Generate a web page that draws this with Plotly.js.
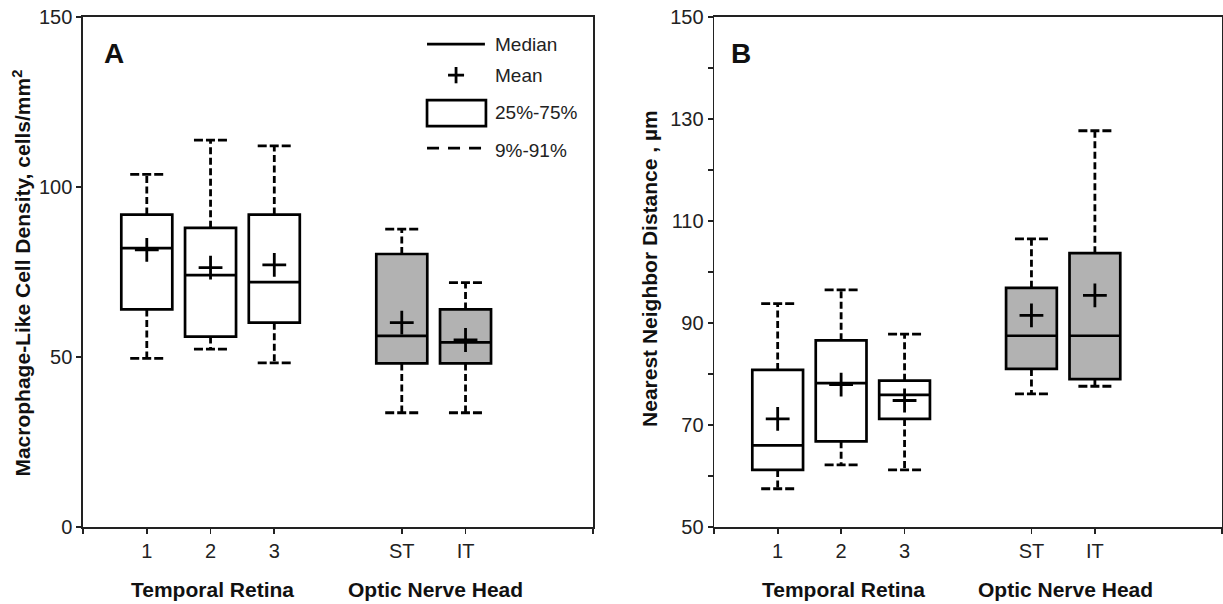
<!DOCTYPE html>
<html>
<head>
<meta charset="utf-8">
<script src="https://cdn.plot.ly/plotly-3.0.1.min.js"></script>
<style>html,body{margin:0;padding:0;background:#fff;}#chart{width:1223px;height:604px;}</style>
</head>
<body>
<div id="chart"></div>
<script>
// ---- Data ----
const categories = ['1', '2', '3', 'ST', 'IT'];
const xPositions = [1, 2, 3, 5, 6];
const groupLabels = ['Temporal Retina', 'Optic Nerve Head'];

// Panel A: Macrophage-like cell density (cells/mm^2)
const densityP9     = [49.6, 52.3, 48.3, 33.6, 33.6];
const densityQ1     = [64.0, 56.0, 60.1, 48.1, 48.1];
const densityMedian = [82.0, 74.1, 72.0, 56.2, 54.3];
const densityQ3     = [91.9, 88.0, 91.9, 80.3, 64.0];
const densityP91    = [103.7, 113.8, 112.1, 87.6, 71.9];
const densityMean   = [81.5, 76.3, 77.1, 60.1, 55.0];

// Panel B: Nearest neighbor distance (µm)
const nndP9     = [57.5, 62.2, 61.2, 76.1, 77.6];
const nndQ1     = [61.2, 66.8, 71.2, 81.0, 79.0];
const nndMedian = [66.0, 78.2, 75.9, 87.5, 87.5];
const nndQ3     = [80.8, 86.6, 78.7, 96.9, 103.7];
const nndP91    = [93.8, 96.5, 87.8, 106.5, 127.7];
const nndMean   = [71.2, 77.9, 74.8, 91.5, 95.4];

const yTicksA = [0, 50, 100, 150];
const yTicksB = [50, 70, 90, 110, 130, 150];

// ---- Styling ----
const FONT = 'Liberation Sans, Arial, sans-serif';
const BOXW = 0.8, CAPW = 0.26;
const fills = ['#ffffff', '#ffffff', '#ffffff', '#b2b2b2', '#b2b2b2'];

function panelTraces(p9, q1, med, q3, p91, mean, xa, ya) {
  const traces = [];
  const wx = [], wy = [], cx = [], cy = [];
  for (let i = 0; i < xPositions.length; i++) {
    const x = xPositions[i];
    wx.push(x, x, null, x, x, null);
    wy.push(q3[i], p91[i], null, q1[i], p9[i], null);
    cx.push(x - CAPW, x + CAPW, null, x - CAPW, x + CAPW, null);
    cy.push(p91[i], p91[i], null, p9[i], p9[i], null);
  }
  traces.push({type: 'scatter', mode: 'lines', x: wx, y: wy, xaxis: xa, yaxis: ya,
    line: {color: '#000', width: 2.8, dash: '7px,3.5px'}, hoverinfo: 'skip', connectgaps: false});
  traces.push({type: 'scatter', mode: 'lines', x: cx, y: cy, xaxis: xa, yaxis: ya,
    line: {color: '#000', width: 2.8, dash: '9px,3px'}, hoverinfo: 'skip', connectgaps: false});
  const groups = [[0, 1, 2], [3, 4]];
  groups.forEach(function (idx) {
    const pick = a => idx.map(i => a[i]);
    traces.push({type: 'box', xaxis: xa, yaxis: ya,
      x: pick(xPositions), q1: pick(q1), median: pick(med), q3: pick(q3),
      lowerfence: pick(q1), upperfence: pick(q3),
      width: BOXW, whiskerwidth: 0, boxpoints: false,
      fillcolor: fills[idx[0]], line: {color: '#000', width: 2.7}, hoverinfo: 'skip'});
  });
  traces.push({type: 'scatter', mode: 'markers', x: xPositions, y: mean, xaxis: xa, yaxis: ya,
    marker: {symbol: 'cross-thin', size: 17, color: '#000', line: {color: '#000', width: 2.8}},
    hoverinfo: 'skip'});
  return traces;
}

const data = [].concat(
  panelTraces(densityP9, densityQ1, densityMedian, densityQ3, densityP91, densityMean, 'x', 'y'),
  panelTraces(nndP9, nndQ1, nndMedian, nndQ3, nndP91, nndMean, 'x2', 'y2')
);

const axisCommon = {
  showgrid: false, zeroline: false, showline: true, mirror: true,
  linecolor: '#222', linewidth: 1.7, ticks: 'outside', ticklen: 5, tickwidth: 1.7, tickcolor: '#222',
  tickfont: {family: FONT, size: 20, color: '#222'}, fixedrange: true
};

const layout = {
  width: 1223, height: 604,
  margin: {l: 0, r: 0, t: 17, b: 77},
  paper_bgcolor: '#fff', plot_bgcolor: '#fff',
  showlegend: false,
  font: {family: FONT, color: '#222'},
  xaxis: Object.assign({}, axisCommon, {domain: [0.0679, 0.4849], range: [0, 8], anchor: 'y',
    tickmode: 'array', tickvals: xPositions, ticktext: categories,
    minor: {tickmode: 'array', tickvals: [0, 8], ticks: 'outside', ticklen: 5, tickwidth: 1.7, tickcolor: '#222', showgrid: false}}),
  yaxis: Object.assign({}, axisCommon, {domain: [0, 1], range: [0, 150], anchor: 'x',
    tickmode: 'array', tickvals: yTicksA, ticktext: yTicksA.map(String)}),
  xaxis2: Object.assign({}, axisCommon, {domain: [0.5840, 0.9990], range: [0, 8], anchor: 'y2',
    tickmode: 'array', tickvals: xPositions, ticktext: categories,
    minor: {tickmode: 'array', tickvals: [0, 8], ticks: 'outside', ticklen: 5, tickwidth: 1.7, tickcolor: '#222', showgrid: false}}),
  yaxis2: Object.assign({}, axisCommon, {domain: [0, 1], range: [50, 150], anchor: 'x2',
    tickmode: 'array', tickvals: yTicksB, ticktext: yTicksB.map(String),
    minor: {dtick: 10, tick0: 50, ticks: 'outside', ticklen: 5, tickwidth: 1.7, tickcolor: '#222', showgrid: false}}),
  annotations: [
    {text: 'Macrophage-Like Cell Density, cells/mm<sup>2</sup>', xref: 'paper', yref: 'paper',
     x: 0.0172, y: 0.497, xanchor: 'center', yanchor: 'middle', textangle: -90, showarrow: false,
     font: {family: FONT, size: 21, color: '#111', weight: 'bold'}},
    {text: 'Nearest Neighbor Distance , µm', xref: 'paper', yref: 'paper',
     x: 0.5315, y: 0.506, xanchor: 'center', yanchor: 'middle', textangle: -90, showarrow: false,
     font: {family: FONT, size: 21, color: '#111', weight: 'bold'}},
    {text: 'A', xref: 'paper', yref: 'paper', x: 0.0932, y: 0.929, xanchor: 'center', yanchor: 'middle',
     showarrow: false, font: {family: FONT, size: 28, color: '#111', weight: 'bold'}},
    {text: 'B', xref: 'paper', yref: 'paper', x: 0.6059, y: 0.929, xanchor: 'center', yanchor: 'middle',
     showarrow: false, font: {family: FONT, size: 28, color: '#111', weight: 'bold'}},
    {text: groupLabels[0], xref: 'x', yref: 'paper', x: 2.03, y: -0.1235, xanchor: 'center', yanchor: 'middle',
     showarrow: false, font: {family: FONT, size: 21, color: '#111', weight: 'bold'}},
    {text: groupLabels[1], xref: 'x', yref: 'paper', x: 5.53, y: -0.1235, xanchor: 'center', yanchor: 'middle',
     showarrow: false, font: {family: FONT, size: 21, color: '#111', weight: 'bold'}},
    {text: groupLabels[0], xref: 'x2', yref: 'paper', x: 2.03, y: -0.1235, xanchor: 'center', yanchor: 'middle',
     showarrow: false, font: {family: FONT, size: 21, color: '#111', weight: 'bold'}},
    {text: groupLabels[1], xref: 'x2', yref: 'paper', x: 5.53, y: -0.1235, xanchor: 'center', yanchor: 'middle',
     showarrow: false, font: {family: FONT, size: 21, color: '#111', weight: 'bold'}},
    {text: 'Median', xref: 'x domain', yref: 'y domain', x: 0.804, y: 0.947, xanchor: 'left', yanchor: 'middle',
     showarrow: false, font: {family: FONT, size: 19, color: '#222'}},
    {text: 'Mean', xref: 'x domain', yref: 'y domain', x: 0.804, y: 0.886, xanchor: 'left', yanchor: 'middle',
     showarrow: false, font: {family: FONT, size: 19, color: '#222'}},
    {text: '25%-75%', xref: 'x domain', yref: 'y domain', x: 0.804, y: 0.812, xanchor: 'left', yanchor: 'middle',
     showarrow: false, font: {family: FONT, size: 19, color: '#222'}},
    {text: '9%-91%', xref: 'x domain', yref: 'y domain', x: 0.804, y: 0.739, xanchor: 'left', yanchor: 'middle',
     showarrow: false, font: {family: FONT, size: 19, color: '#222'}}
  ],
  shapes: [
    {type: 'line', xref: 'x domain', yref: 'y domain', x0: 0.6745, x1: 0.788, y0: 0.947, y1: 0.947,
     line: {color: '#000', width: 2.7}},
    {type: 'line', xref: 'x domain', yref: 'y domain', x0: 0.7157, x1: 0.7471, y0: 0.886, y1: 0.886,
     line: {color: '#000', width: 2.8}},
    {type: 'line', xref: 'x domain', yref: 'y domain', x0: 0.7314, x1: 0.7314, y0: 0.870, y1: 0.902,
     line: {color: '#000', width: 2.8}},
    {type: 'rect', xref: 'x domain', yref: 'y domain', x0: 0.6745, x1: 0.790, y0: 0.786, y1: 0.837,
     line: {color: '#000', width: 2.7}, fillcolor: '#fff'},
    {type: 'line', xref: 'x domain', yref: 'y domain', x0: 0.6745, x1: 0.782, y0: 0.743, y1: 0.743,
     line: {color: '#000', width: 2.8, dash: '12px,9px'}}
  ]
};

Plotly.newPlot('chart', data, layout, {staticPlot: true, displayModeBar: false});
</script>
</body>
</html>
